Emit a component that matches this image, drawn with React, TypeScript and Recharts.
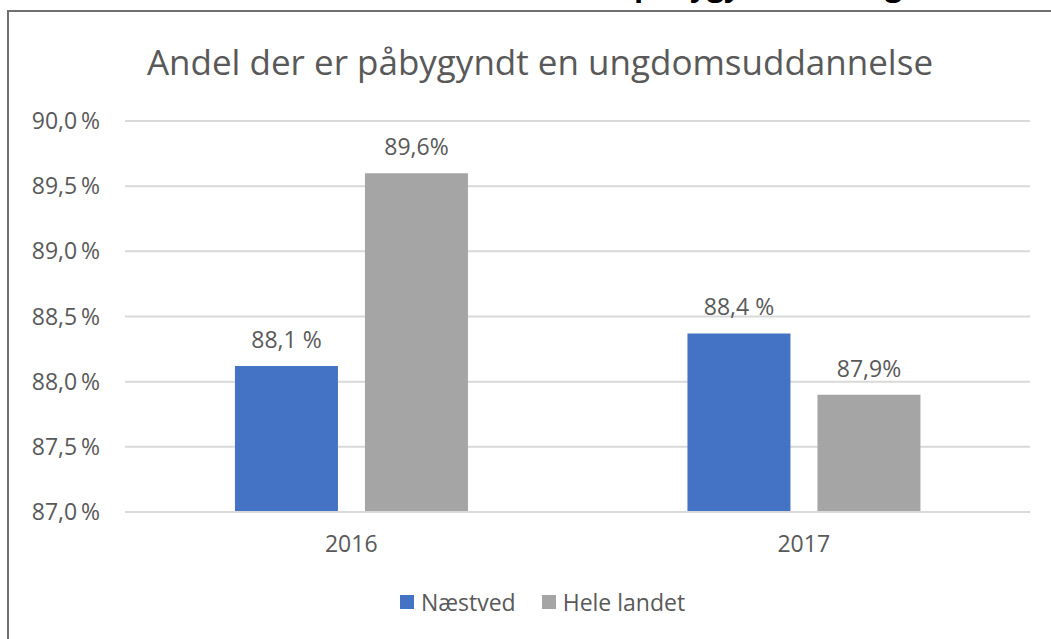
import { BarChart, Bar, XAxis, YAxis, CartesianGrid, Legend, LabelList } from "recharts";

const years = ["2016", "2017"];
const naestved = [88.12, 88.37];
const heleLandet = [89.6, 87.9];
const naestvedLabels = ["88,1 %", "88,4 %"];
const heleLandetLabels = ["89,6%", "87,9%"];
const yTicks = [87, 87.5, 88, 88.5, 89, 89.5, 90];

const series = [
  { key: "naestved", label: "naestvedLabel", name: "Næstved", color: "#4472C4" },
  { key: "hele", label: "heleLabel", name: "Hele landet", color: "#A5A5A5" },
];

const data = years.map((year, i) => ({
  year,
  naestved: naestved[i],
  hele: heleLandet[i],
  naestvedLabel: naestvedLabels[i],
  heleLabel: heleLandetLabels[i],
}));

const font = "'Open Sans', 'Noto Sans', sans-serif";
const textColor = "#595959";
const small = 23;

const fmtTick = (v: number) => v.toFixed(1).replace(".", ",") + "\u2009%";

const LegendBox = () => (
  <div
    style={{
      display: "flex",
      justifyContent: "center",
      gap: 26,
      paddingTop: 14,
      paddingLeft: 55,
      fontSize: small,
      color: textColor,
    }}
  >
    {series.map((s) => (
      <div key={s.key} style={{ display: "flex", alignItems: "center", gap: 7 }}>
        <span style={{ width: 14, height: 14, background: s.color, display: "inline-block" }} />
        <span>{s.name}</span>
      </div>
    ))}
  </div>
);

export default function App() {
  return (
    <div
      style={{
        position: "absolute",
        left: 0,
        top: 0,
        width: 1051,
        height: 639,
        overflow: "hidden",
        background: "#fff",
        fontFamily: font,
      }}
    >
      {/* heading of the page above, mostly cut off */}
      <div style={{ position: "absolute", left: 0, top: 0, width: 1051, height: 9, overflow: "hidden" }}>
        <div
          style={{
            position: "absolute",
            left: 634,
            top: -35,
            whiteSpace: "nowrap",
            fontWeight: 700,
            fontSize: 30,
            lineHeight: "40px",
            color: "#000",
          }}
        >
          påbygyndt en ungdomsuddannelse
        </div>
      </div>
      <div
        style={{
          position: "absolute",
          left: 7,
          top: 10,
          width: 1100,
          height: 700,
          borderLeft: "2px solid #707070",
          borderTop: "2px solid #707070",
        }}
      />
      <div
        style={{
          position: "absolute",
          left: 0,
          top: 38,
          width: 1080,
          textAlign: "center",
          fontSize: 35,
          lineHeight: "48px",
          color: textColor,
        }}
      >
        Andel der er påbygyndt en ungdomsuddannelse
      </div>
      <div style={{ position: "absolute", left: 0, top: 0 }}>
        <BarChart
          width={1051}
          height={639}
          data={data}
          margin={{ top: 121, right: 21, left: 0, bottom: 20 }}
          barCategoryGap="24.3%"
          barGap={27}
          style={{ fontFamily: font }}
        >
          <CartesianGrid vertical={false} stroke="#d9d9d9" strokeWidth={2} />
          <XAxis
            dataKey="year"
            axisLine={{ stroke: "#d9d9d9", strokeWidth: 2 }}
            tickLine={false}
            tickMargin={18}
            tick={{ fill: textColor, fontSize: small }}
            height={60}
          />
          <YAxis
            width={125}
            domain={[87, 90]}
            ticks={yTicks}
            axisLine={false}
            tickLine={false}
            tickMargin={19}
            tickFormatter={fmtTick}
            tick={{ fill: textColor, fontSize: small }}
          />
          <Legend verticalAlign="bottom" height={47} content={<LegendBox />} />
          {series.map((s) => (
            <Bar key={s.key} dataKey={s.key} name={s.name} fill={s.color} isAnimationActive={false}>
              <LabelList dataKey={s.label} position="top" offset={18} fill={textColor} fontSize={small} />
            </Bar>
          ))}
        </BarChart>
      </div>
    </div>
  );
}
